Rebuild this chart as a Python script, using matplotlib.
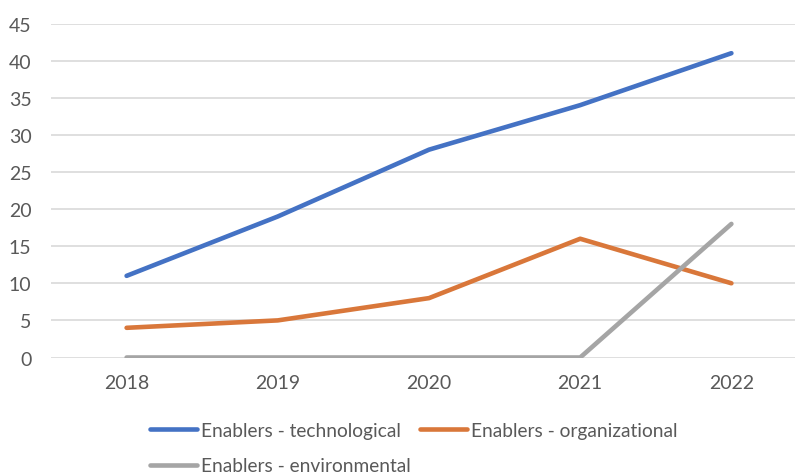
import matplotlib.pyplot as plt

years = ["2018", "2019", "2020", "2021", "2022"]
technological = [11, 19, 28, 34, 41]
organizational = [4, 5, 8, 16, 10]
environmental = [0, 0, 0, 0, 18]

plt.rcParams['font.family'] = ['Lato', 'DejaVu Sans']

fig = plt.figure(figsize=(7.95, 4.77), dpi=100)
ax = fig.add_axes([51 / 795, 1 - 358.5 / 477, 756 / 795, 334 / 477])

x = range(len(years))
l1, = ax.plot(x, technological, color='#4472C4', lw=3.3, solid_capstyle='round',
              solid_joinstyle='round', label='Enablers - technological')
l2, = ax.plot(x, organizational, color='#D9773A', lw=3.3, solid_capstyle='round',
              solid_joinstyle='round', label='Enablers - organizational')
l3, = ax.plot(x, environmental, color='#A5A5A5', lw=3.3, solid_capstyle='round',
              solid_joinstyle='round', label='Enablers - environmental')

ax.set_xlim(-0.5, 4.5)
ax.set_ylim(0, 45)
ax.set_xticks(list(x))
ax.set_xticklabels(years)
ax.set_yticks(range(0, 50, 5))
ax.yaxis.grid(True, color='#D9D9D9', lw=1.2)
ax.set_axisbelow(True)
for s in ax.spines.values():
    s.set_visible(False)
ax.tick_params(axis='both', length=0, labelsize=14, labelcolor='#595959')
ax.tick_params(axis='y', pad=14)
ax.tick_params(axis='x', pad=12)

# legend in two rows: tech / org on top, env below
fig.legend([l1, l3, l2], [l1.get_label(), l3.get_label(), l2.get_label()],
           ncol=2, loc='upper left', bbox_to_anchor=(150 / 795, 1 - 423 / 477),
           frameon=False, fontsize=13.8, labelcolor='#595959', borderpad=0,
           borderaxespad=0, handlelength=2.45, handletextpad=0.2,
           columnspacing=0.5, labelspacing=0.95)

fig.savefig("out.png", dpi=100)
